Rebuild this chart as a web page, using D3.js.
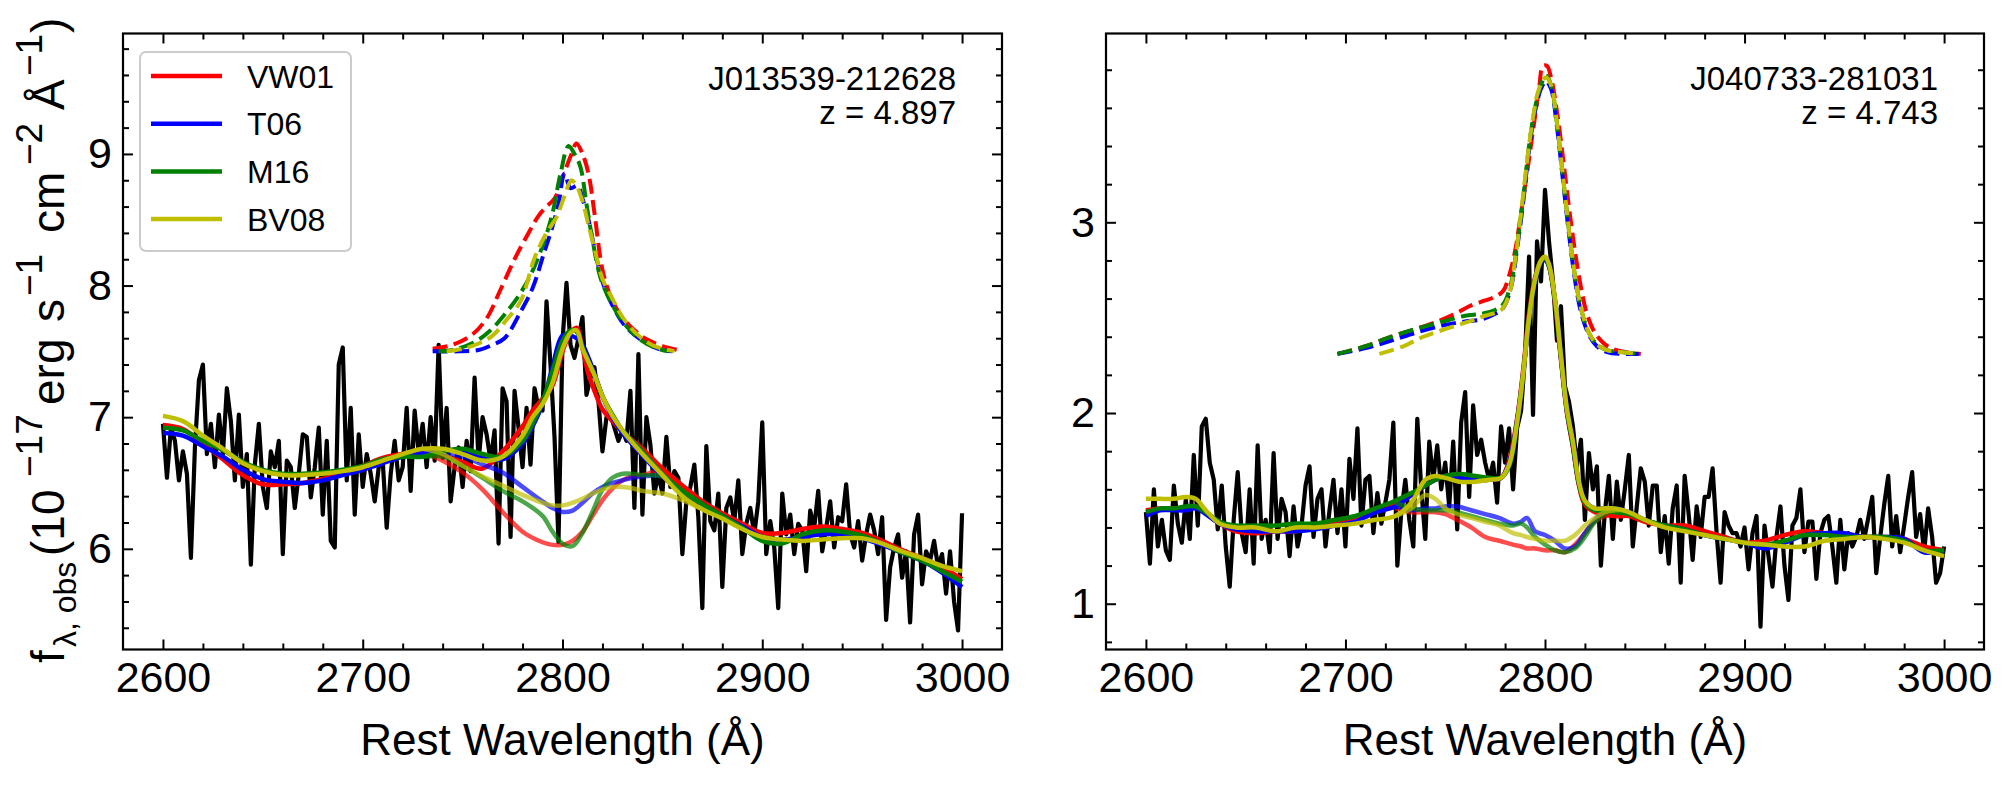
<!DOCTYPE html>
<html>
<head>
<meta charset="utf-8">
<script src="https://cdn.jsdelivr.net/npm/d3@7"></script>
<style>
  body { margin: 0; background: #fff; }
  svg { display: block; }
  text { font-family: 'Liberation Sans', Arial, Helvetica, sans-serif; }
</style>
</head>
<body>
<svg id="chart" width="2013" height="787"></svg>
<script>
// ---- data ----
const models = ["VW01", "T06", "M16", "BV08"];
const modelColors = ["#ff0000", "#0000ff", "#008000", "#bfbf00"];
const waveStart = 2600, waveStep = 2;
const xTicks = [2600, 2700, 2800, 2900, 3000];

// observed flux, J013539-212628 (2600-3000 A, 2 A bins)
const fluxJ0135 = [
  6.95, 6.54, 6.92, 6.82, 6.52, 6.74, 6.57, 5.93, 6.77, 7.28,
  7.40, 6.72, 6.95, 6.62, 7.02, 6.72, 7.22, 6.97, 6.52, 7.02,
  6.47, 6.72, 5.88, 6.64, 6.95, 6.47, 6.31, 6.74, 6.62, 6.82,
  5.96, 6.67, 6.62, 6.31, 6.57, 6.87, 6.85, 6.39, 6.62, 6.92,
  6.26, 6.82, 6.06, 6.01, 7.40, 7.53, 6.52, 7.07, 6.26, 6.87,
  6.47, 6.72, 6.57, 6.36, 6.62, 6.67, 6.16, 6.57, 6.82, 6.52,
  6.62, 7.07, 6.44, 7.05, 6.72, 6.95, 6.62, 7.00, 6.67, 7.55,
  6.69, 7.07, 6.36, 6.62, 6.77, 6.47, 6.82, 6.59, 7.30, 6.67,
  7.00, 6.87, 6.67, 6.90, 6.04, 7.22, 7.12, 6.09, 7.20, 6.92,
  6.62, 7.07, 6.64, 7.22, 7.07, 7.05, 7.88, 7.40, 6.85, 6.05,
  7.58, 8.02, 7.55, 7.45, 7.60, 7.76, 7.17, 7.30, 7.38, 7.12,
  6.74, 7.00, 7.02, 6.92, 6.82, 6.90, 6.82, 7.20, 6.31, 7.48,
  6.26, 7.00, 6.79, 6.42, 6.57, 6.42, 6.85, 6.47, 6.59, 6.54,
  5.96, 6.36, 6.47, 6.64, 6.24, 5.55, 6.78, 6.21, 6.14, 6.42,
  5.71, 6.31, 6.39, 6.21, 6.52, 5.96, 6.19, 6.31, 6.11, 6.36,
  6.96, 5.96, 6.21, 6.01, 5.55, 6.42, 6.11, 6.26, 5.96, 6.19,
  6.14, 5.83, 6.29, 6.16, 6.44, 5.98, 6.16, 6.36, 6.01, 6.24,
  6.21, 6.49, 6.11, 6.01, 6.21, 5.91, 6.11, 6.26, 6.14, 5.96,
  6.24, 5.46, 5.86, 6.01, 6.11, 5.78, 5.98, 5.44, 6.11, 6.26,
  5.73, 5.98, 5.91, 6.06, 5.86, 5.96, 5.66, 5.98, 5.60, 5.38,
  6.27
];

// observed flux, J040733-281031
const fluxJ0407 = [
  1.48, 1.21, 1.60, 1.30, 1.44, 1.28, 1.23, 1.62, 1.42, 1.32,
  1.55, 1.34, 1.78, 1.41, 1.93, 1.97, 1.74, 1.65, 1.39, 1.62,
  1.30, 1.09, 1.44, 1.69, 1.37, 1.27, 1.60, 1.21, 1.83, 1.34,
  1.44, 1.27, 1.79, 1.34, 1.55, 1.48, 1.25, 1.51, 1.30, 1.41,
  1.62, 1.72, 1.35, 1.55, 1.60, 1.30, 1.49, 1.65, 1.37, 1.60,
  1.30, 1.76, 1.55, 1.92, 1.41, 1.65, 1.67, 1.37, 1.58, 1.42,
  1.53, 1.65, 1.95, 1.20, 1.48, 1.65, 1.44, 1.30, 1.97, 1.60,
  1.34, 1.85, 1.65, 1.83, 1.60, 1.74, 1.51, 1.85, 1.39, 1.95,
  2.11, 1.56, 2.04, 1.78, 1.86, 1.74, 1.65, 1.74, 1.53, 1.93,
  1.74, 1.92, 1.60, 1.92, 2.01, 2.30, 2.82, 1.99, 2.90, 2.69,
  3.17, 2.90, 2.69, 2.38, 2.56, 2.14, 2.06, 1.93, 1.72, 1.86,
  1.44, 1.79, 1.60, 1.72, 1.20, 1.48, 1.67, 1.34, 1.64, 1.44,
  1.60, 1.78, 1.30, 1.51, 1.71, 1.64, 1.41, 1.62, 1.62, 1.27,
  1.46, 1.21, 1.50, 1.62, 1.11, 1.67, 1.47, 1.23, 1.51, 1.35,
  1.56, 1.56, 1.71, 1.37, 1.11, 1.48, 1.41, 1.37, 1.37, 1.30,
  1.40, 1.18, 1.37, 1.46, 0.88, 1.41, 1.25, 1.09, 1.35, 1.51,
  1.20, 1.02, 1.41, 1.45, 1.60, 1.27, 1.43, 1.43, 1.13, 1.37,
  1.44, 1.46, 1.30, 1.11, 1.44, 1.18, 1.37, 1.30, 1.35, 1.44,
  1.34, 1.45, 1.56, 1.16, 1.35, 1.52, 1.67, 1.30, 1.46, 1.27,
  1.41, 1.56, 1.69, 1.35, 1.47, 1.27, 1.50, 1.35, 1.11, 1.16,
  1.30
];

// total model fits, left panel
const fitGridL = [2600,2610,2620,2630,2640,2650,2660,2670,2680,2690,2700,2710,2720,2730,2740,2750,2760,2770,2780,
  2785,2790,2795,2800,2804,2807,2810,2813,2816,2820,2825,2830,
  2840,2850,2860,2870,2880,2890,2900,2910,2920,2930,2940,2950,2960,2970,2980,2990,3000];
const fitL_VW01 = [6.94,6.91,6.80,6.68,6.56,6.49,6.49,6.50,6.53,6.58,6.63,6.69,6.72,6.73,6.71,6.66,6.61,6.74,6.93,
  7.05,7.14,7.24,7.50,7.64,7.68,7.52,7.33,7.20,7.06,6.97,6.89,
  6.76,6.61,6.48,6.36,6.27,6.19,6.12,6.12,6.15,6.17,6.15,6.12,6.06,5.99,5.93,5.86,5.77];
const fitL_T06 = [6.88,6.86,6.78,6.70,6.60,6.53,6.51,6.50,6.52,6.56,6.60,6.65,6.70,6.73,6.75,6.74,6.70,6.68,6.80,
  6.93,7.10,7.38,7.62,7.62,7.60,7.55,7.45,7.33,7.16,7.00,6.88,
  6.71,6.55,6.43,6.34,6.25,6.17,6.09,6.07,6.09,6.11,6.11,6.08,6.03,5.97,5.91,5.82,5.71];
const fitL_M16 = [6.92,6.90,6.82,6.75,6.66,6.60,6.57,6.57,6.58,6.60,6.63,6.68,6.70,6.70,6.74,6.76,6.72,6.70,6.82,
  6.95,7.12,7.35,7.58,7.66,7.65,7.53,7.42,7.32,7.16,7.02,6.90,
  6.74,6.57,6.44,6.34,6.25,6.16,6.06,6.04,6.11,6.14,6.13,6.10,6.04,5.97,5.91,5.83,5.75];
const fitL_BV08 = [7.01,6.97,6.86,6.76,6.65,6.59,6.56,6.56,6.57,6.59,6.62,6.67,6.72,6.76,6.76,6.72,6.67,6.70,6.86,
  7.00,7.10,7.26,7.52,7.64,7.66,7.52,7.42,7.32,7.16,7.01,6.90,
  6.72,6.56,6.40,6.30,6.23,6.15,6.09,6.07,6.06,6.07,6.08,6.08,6.04,5.98,5.93,5.87,5.83];

// continuum (no Mg II) fits, left panel
const contGridL = [2730,2740,2750,2760,2770,2780,2790,2795,2800,2805,2810,2815,2820,2825,2830,2835,2840,2850,2860,2870];
const contL_VW01 = [6.73,6.67,6.58,6.45,6.28,6.13,6.05,6.03,6.03,6.06,6.13,6.25,6.37,6.46,6.52,6.55,6.56,6.59,6.48,6.36];
const contL_T06  = [6.73,6.73,6.70,6.64,6.58,6.47,6.36,6.31,6.28,6.29,6.35,6.42,6.47,6.50,6.52,6.54,6.55,6.55,6.43,6.34];
const contL_M16  = [6.70,6.70,6.63,6.54,6.44,6.36,6.25,6.13,6.04,6.02,6.12,6.28,6.45,6.54,6.57,6.57,6.56,6.55,6.44,6.34];
const contL_BV08 = [6.76,6.72,6.63,6.55,6.48,6.41,6.35,6.33,6.33,6.35,6.38,6.42,6.45,6.47,6.47,6.46,6.44,6.42,6.37,6.30];

// Mg II line profiles (offset, dashed), left panel
const lineGridL_VW01 = [2735,2745,2755,2762,2769,2776,2783,2788,2792,2796,2800,2804,2807,2810,2813,2816,2820,2824,2828,2832,2836,2840,2845,2850,2858];
const lineL_VW01 = [7.52,7.55,7.63,7.75,7.97,8.20,8.40,8.53,8.60,8.66,8.82,8.98,9.08,9.00,8.85,8.55,8.12,7.92,7.80,7.72,7.66,7.61,7.57,7.54,7.51];
const lineGridL_T06 = [2735,2748,2758,2765,2771,2779,2785,2791,2795,2798,2801,2804,2807.5,2810,2813,2816,2820,2825,2831,2840,2848,2855];
const lineL_T06 = [7.50,7.50,7.51,7.55,7.60,7.80,7.98,8.26,8.45,8.62,8.85,8.74,8.76,8.66,8.50,8.28,8.03,7.85,7.70,7.58,7.52,7.50];
const lineGridL_M16 = [2738,2745,2756,2764,2771,2778,2784,2790,2795,2799,2803,2806,2809,2812,2815,2819,2824,2830,2838,2846,2853];
const lineL_M16 = [7.50,7.51,7.57,7.66,7.78,7.92,8.08,8.30,8.55,8.85,9.06,9.00,8.90,8.62,8.35,8.06,7.88,7.73,7.60,7.53,7.50];
const lineGridL_BV08 = [2742,2750,2758,2765,2772,2779,2786,2792,2797,2801,2804.5,2807,2810,2813,2816,2820,2825,2830,2838,2846,2856];
const lineL_BV08 = [7.50,7.52,7.56,7.62,7.74,7.88,8.21,8.40,8.52,8.68,8.80,8.76,8.64,8.46,8.28,8.05,7.90,7.76,7.62,7.54,7.50];

// total model fits, right panel
const fitGridR = [2600,2607,2614,2620,2625,2630,2637,2645,2655,2665,2675,2685,2695,2705,2715,2725,
  2733,2740,2745,2750,2757,2765,2772,2778,2782,2786,2789,2792,2795,2798,2800,2802,2805,2808,2811,2814,2817,2820,2825,2830,2835,2842,2850,
  2860,2870,2880,2890,2900,2910,2920,2930,2940,2950,2960,2970,2980,2990,3000];
const fitR_VW01 = [1.49,1.50,1.50,1.50,1.51,1.48,1.42,1.38,1.37,1.38,1.38,1.40,1.42,1.44,1.49,1.52,
  1.57,1.62,1.65,1.67,1.66,1.65,1.65,1.66,1.75,1.97,2.22,2.52,2.71,2.80,2.81,2.77,2.58,2.28,2.00,1.82,1.62,1.52,1.48,1.47,1.46,1.46,1.43,
  1.41,1.41,1.38,1.35,1.32,1.33,1.36,1.38,1.37,1.36,1.35,1.35,1.34,1.30,1.28];
const fitR_T06 = [1.46,1.49,1.49,1.49,1.50,1.47,1.42,1.39,1.38,1.38,1.38,1.39,1.41,1.43,1.48,1.51,
  1.57,1.62,1.65,1.67,1.66,1.65,1.65,1.66,1.74,1.96,2.20,2.50,2.70,2.79,2.80,2.77,2.59,2.29,2.01,1.83,1.63,1.54,1.50,1.50,1.49,1.48,1.44,
  1.41,1.39,1.36,1.34,1.32,1.29,1.32,1.36,1.37,1.37,1.35,1.35,1.34,1.27,1.28];
const fitR_M16 = [1.48,1.50,1.50,1.51,1.51,1.48,1.43,1.41,1.41,1.41,1.42,1.42,1.44,1.46,1.50,1.54,
  1.58,1.62,1.65,1.67,1.68,1.67,1.66,1.66,1.72,1.95,2.20,2.50,2.70,2.80,2.81,2.77,2.59,2.29,2.01,1.83,1.63,1.53,1.49,1.49,1.48,1.47,1.44,
  1.41,1.39,1.36,1.34,1.32,1.31,1.33,1.36,1.36,1.35,1.35,1.35,1.33,1.28,1.28];
const fitR_BV08 = [1.55,1.55,1.55,1.56,1.55,1.49,1.42,1.40,1.40,1.38,1.40,1.40,1.41,1.42,1.44,1.46,
  1.53,1.65,1.67,1.66,1.64,1.64,1.65,1.66,1.73,1.95,2.20,2.50,2.70,2.80,2.82,2.78,2.60,2.30,2.02,1.85,1.64,1.54,1.50,1.50,1.50,1.48,1.44,
  1.40,1.38,1.36,1.34,1.32,1.31,1.30,1.30,1.33,1.34,1.35,1.34,1.32,1.28,1.25];

// continuum fits, right panel
const contGridR = [2725,2733,2740,2745,2750,2756,2763,2770,2777,2784,2788,2791,2795,2800,2805,2810,2815,2820,2825,2830,2835,2840];
const contR_VW01 = [1.50,1.48,1.48,1.48,1.47,1.44,1.40,1.35,1.33,1.31,1.30,1.29,1.29,1.28,1.28,1.27,1.31,1.37,1.43,1.46,1.46,1.46];
const contR_T06  = [1.51,1.49,1.50,1.50,1.51,1.51,1.49,1.47,1.45,1.42,1.43,1.45,1.38,1.36,1.33,1.29,1.30,1.37,1.44,1.49,1.50,1.49];
const contR_M16  = [1.53,1.50,1.49,1.49,1.49,1.48,1.46,1.44,1.42,1.41,1.42,1.40,1.35,1.31,1.28,1.27,1.29,1.35,1.43,1.47,1.49,1.48];
const contR_BV08 = [1.46,1.50,1.57,1.55,1.50,1.47,1.45,1.43,1.41,1.37,1.36,1.35,1.34,1.33,1.33,1.33,1.36,1.41,1.45,1.48,1.49,1.49];

// Mg II line profiles, right panel
const lineGridR_VW01 = [2696,2710,2723,2735,2746,2755,2762,2770,2775,2779,2782,2785,2788,2791,2794,2797,2799,2801,2803,2806,2809,2812,2815,2818,2821,2825,2829,2833,2840,2848];
const lineR_VW01 = [2.31,2.35,2.40,2.44,2.48,2.52,2.56,2.59,2.61,2.64,2.72,2.85,3.05,3.26,3.48,3.70,3.82,3.82,3.76,3.58,3.34,3.08,2.85,2.66,2.52,2.42,2.37,2.34,2.32,2.31];
const lineGridR_T06 = [2696,2710,2723,2735,2749,2760,2768,2775,2779,2783,2786,2789,2792,2795,2798,2800.5,2803,2806,2809,2812,2815,2818,2822,2826,2831,2838,2847];
const lineR_T06 = [2.31,2.34,2.38,2.42,2.46,2.48,2.49,2.52,2.55,2.66,2.86,3.10,3.38,3.58,3.70,3.74,3.70,3.50,3.22,2.94,2.70,2.53,2.41,2.35,2.32,2.31,2.31];
const lineGridR_M16 = [2696,2710,2723,2735,2749,2760,2768,2775,2779,2783,2786,2789,2792,2795,2798,2800.5,2803,2806,2809,2812,2815,2818,2822,2826,2831,2838,2847];
const lineR_M16 = [2.31,2.35,2.40,2.44,2.48,2.51,2.52,2.54,2.57,2.68,2.88,3.12,3.40,3.60,3.72,3.77,3.72,3.52,3.24,2.96,2.72,2.55,2.42,2.36,2.33,2.32,2.31];
const lineGridR_BV08 = [2717,2729,2739,2750,2762,2770,2778,2782,2785,2788,2791,2794,2797,2800.5,2803,2806,2809,2812,2815,2818,2822,2826,2831,2838,2847];
const lineR_BV08 = [2.31,2.35,2.40,2.44,2.48,2.51,2.54,2.62,2.80,3.05,3.32,3.55,3.70,3.76,3.72,3.52,3.24,2.96,2.72,2.55,2.42,2.36,2.33,2.32,2.31];

// ---- panels ----
const panels = [
  {
    name: "J013539-212628", zText: "z = 4.897", flux: fluxJ0135,
    fitGrid: fitGridL, fits: [fitL_VW01, fitL_T06, fitL_M16, fitL_BV08],
    contGrid: contGridL, conts: [contL_VW01, contL_T06, contL_M16, contL_BV08],
    lineGrids: [lineGridL_VW01, lineGridL_T06, lineGridL_M16, lineGridL_BV08],
    lines: [lineL_VW01, lineL_T06, lineL_M16, lineL_BV08],
    yDomain: [5.235, 9.915], yTicks: [6, 7, 8, 9],
    left: 123, right: 1002, legend: true
  },
  {
    name: "J040733-281031", zText: "z = 4.743", flux: fluxJ0407,
    fitGrid: fitGridR, fits: [fitR_VW01, fitR_T06, fitR_M16, fitR_BV08],
    contGrid: contGridR, conts: [contR_VW01, contR_T06, contR_M16, contR_BV08],
    lineGrids: [lineGridR_VW01, lineGridR_T06, lineGridR_M16, lineGridR_BV08],
    lines: [lineR_VW01, lineR_T06, lineR_M16, lineR_BV08],
    yDomain: [0.76, 3.99], yTicks: [1, 2, 3],
    left: 1106, right: 1984, legend: false
  }
];

let plotTop = 33.5, plotBottom = 649.5;
let svg = d3.select('#chart');

panels.forEach(function(p) {
  let x = d3.scaleLinear().domain([2580, 3020]).range([p.left, p.right]);
  let y = d3.scaleLinear().domain(p.yDomain).range([plotBottom, plotTop]);

  let g = svg.append('g');

  // spectrum
  let spec = p.flux.map((f, i) => [waveStart + i * waveStep, f]);
  let specLine = d3.line().x(d => x(d[0])).y(d => y(d[1]));
  g.append('path')
    .datum(spec)
    .attr('d', specLine)
    .attr('fill', 'none')
    .attr('stroke', '#000')
    .attr('stroke-width', 4.2)
    .attr('stroke-linejoin', 'round');

  let smooth = d3.line().x(d => x(d[0])).y(d => y(d[1])).curve(d3.curveCatmullRom);

  models.forEach(function(m, k) {
    let full = p.fitGrid.map((w, i) => [w, p.fits[k][i]]);
    let cont = p.contGrid.map((w, i) => [w, p.conts[k][i]]);
    let prof = p.lineGrids[k].map((w, i) => [w, p.lines[k][i]]);

    g.append('path').datum(full).attr('d', smooth)
      .attr('fill', 'none').attr('stroke', modelColors[k]).attr('stroke-width', 4.5);
    g.append('path').datum(cont).attr('d', smooth)
      .attr('fill', 'none').attr('stroke', modelColors[k]).attr('stroke-width', 4.5)
      .attr('stroke-opacity', 0.7);
    g.append('path').datum(prof).attr('d', smooth)
      .attr('fill', 'none').attr('stroke', modelColors[k]).attr('stroke-width', 4)
      .attr('stroke-dasharray', '15,6.5');
  });

  // axes, ticks inside on all four sides
  let xMinor = d3.range(2600, 3001, 20).filter(v => v % 100 !== 0);
  let yMinor = d3.range(Math.ceil(p.yDomain[0] * 5), Math.floor(p.yDomain[1] * 5) + 1)
                 .map(v => v / 5).filter(v => Math.abs(v - Math.round(v)) > 1e-6);

  function addAxis(gen, tr, vals, size, labels) {
    let a = g.append('g')
      .attr('transform', tr)
      .call(gen.tickValues(vals).tickSizeInner(-size).tickSizeOuter(0)
               .tickFormat(labels ? d3.format('d') : ''));
    a.select('.domain').remove();
    a.selectAll('line').attr('stroke', '#000').attr('stroke-width', 2);
    return a;
  }

  let xb = addAxis(d3.axisBottom(x).tickPadding(12), 'translate(0,' + plotBottom + ')', xTicks, 10, true);
  xb.selectAll('text').attr('font-size', 43).attr('fill', '#000');
  addAxis(d3.axisBottom(x), 'translate(0,' + plotBottom + ')', xMinor, 6, false);
  addAxis(d3.axisTop(x), 'translate(0,' + plotTop + ')', xTicks, 10, false);
  addAxis(d3.axisTop(x), 'translate(0,' + plotTop + ')', xMinor, 6, false);

  let yl = addAxis(d3.axisLeft(y).tickPadding(11), 'translate(' + p.left + ',0)', p.yTicks, 10, true);
  yl.selectAll('text').attr('font-size', 43).attr('fill', '#000');
  addAxis(d3.axisLeft(y), 'translate(' + p.left + ',0)', yMinor, 6, false);
  addAxis(d3.axisRight(y), 'translate(' + p.right + ',0)', p.yTicks, 10, false);
  addAxis(d3.axisRight(y), 'translate(' + p.right + ',0)', yMinor, 6, false);

  g.append('rect')
    .attr('x', p.left).attr('y', plotTop)
    .attr('width', p.right - p.left).attr('height', plotBottom - plotTop)
    .attr('fill', 'none').attr('stroke', '#000').attr('stroke-width', 2.2);

  // x label
  g.append('text')
    .attr('x', (p.left + p.right) / 2).attr('y', 755)
    .attr('text-anchor', 'middle').attr('font-size', 44)
    .text('Rest Wavelength (Å)');

  // object name and redshift
  g.append('text')
    .attr('x', p.right - 46).attr('y', 90)
    .attr('text-anchor', 'end').attr('font-size', 33)
    .text(p.name);
  g.append('text')
    .attr('x', p.right - 46).attr('y', 124)
    .attr('text-anchor', 'end').attr('font-size', 33)
    .text(p.zText);

  if (p.legend) {
    let lg = g.append('g');
    lg.append('rect')
      .attr('x', 140).attr('y', 52).attr('width', 211).attr('height', 199)
      .attr('rx', 6).attr('fill', '#fff').attr('fill-opacity', 0.8)
      .attr('stroke', '#cccccc').attr('stroke-width', 2);
    models.forEach(function(m, k) {
      let yy = 76 + k * 47.7;
      lg.append('line')
        .attr('x1', 151).attr('x2', 222).attr('y1', yy).attr('y2', yy)
        .attr('stroke', modelColors[k]).attr('stroke-width', 4.5);
      lg.append('text')
        .attr('x', 247).attr('y', yy + 11.5)
        .attr('font-size', 32)
        .text(m);
    });
  }
});

// y axis label, rotated; each piece starts where it sits in the original figure
let ylab = svg.append('text')
  .attr('transform', 'translate(64,0) rotate(-90)')
  .attr('font-size', 46);
// [text, font size, start (page y), baseline shift]
let labelParts = [
  ['f', 46, 663, 0], ['λ, obs', 32, 647, 12], ['(10', 46, 556, 0], ['−17', 37, 477, -22],
  ['erg', 46, 405, 0], ['s', 46, 322, 0], ['−1', 37, 296, -22], ['cm', 46, 233, 0],
  ['−2', 37, 165, -22], ['Å', 46, 110, 0], ['−1', 37, 76, -22], [')', 46, 33, 0]
];
let prevShift = 0;
labelParts.forEach(function(pt) {
  ylab.append('tspan')
    .attr('x', -pt[2])
    .attr('dy', pt[3] - prevShift)
    .attr('font-size', pt[1])
    .text(pt[0]);
  prevShift = pt[3];
});
</script>
</body>
</html>
